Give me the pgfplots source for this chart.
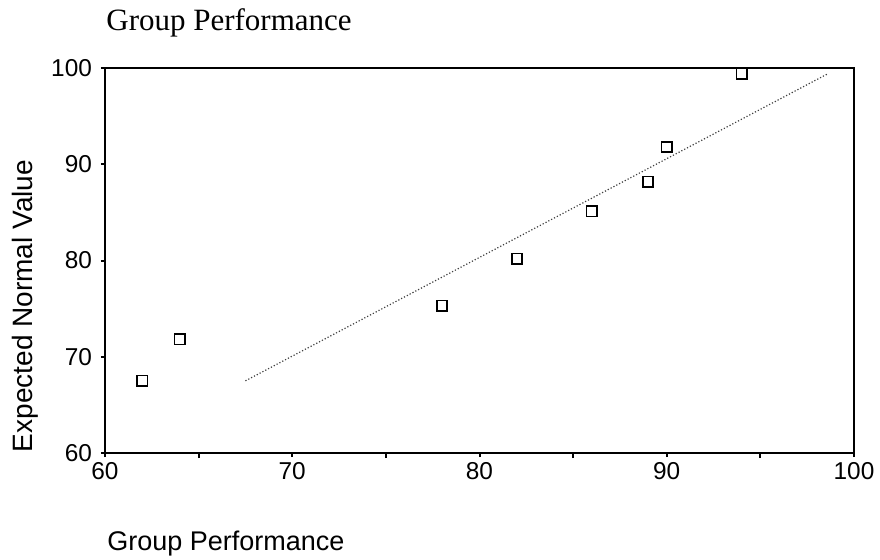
\documentclass[border=0pt]{standalone}
\usepackage{pgfplots}
\pgfplotsset{compat=1.18}
\usepackage{fontspec}
\setmainfont{Liberation Serif}
\newfontfamily\arial{Liberation Sans}
\begin{document}
\begin{tikzpicture}
\path[use as bounding box] (-52.5pt,-53pt) rectangle (387.5pt,226.5pt);
\begin{axis}[
  at={(0pt,0pt)}, anchor=south west,
  scale only axis,
  width=374.5pt, height=192.5pt,
  xmin=60, xmax=100, ymin=60, ymax=100,
  xtick={60,70,80,90,100},
  ytick={60,70,80,90,100},
  minor xtick={65,75,85,95},
  tick align=outside,
  xtick pos=bottom, ytick pos=left,
  major tick length=2pt,
  minor tick length=2.5pt,
  every tick/.style={black, line width=1pt},
  axis line style={line width=1.1pt},
  /pgf/number format/assume math mode=true,
  ticklabel style={font=\arial\fontsize{12.2}{14}\selectfont},
  yticklabel style={xshift=-1pt},
  xticklabel style={yshift=1pt},
  clip=false,
]
\addplot[only marks, mark=square, mark size=2.6pt, mark options={line width=0.8pt, black}]
  coordinates {(62,67.5) (64,71.8) (78,75.3) (82,80.2) (86,85.1) (89,88.2) (90,91.8) (94,99.4)};
\addplot[black!75, line width=0.6pt, densely dotted]
  coordinates {(67.5,67.5) (98.6,99.4)};
\end{axis}
\node[anchor=base west, inner sep=0pt, font=\fontsize{15.5}{18}\selectfont] at (0.5pt,211.5pt) {Group Performance};
\node[anchor=base west, inner sep=0pt, font=\arial\fontsize{13.5}{16}\selectfont] at (1pt,-48.5pt) {Group Performance};
\node[rotate=90, anchor=base, inner sep=0pt, font=\arial\fontsize{14}{17}\selectfont] at (-36pt,73.5pt) {Expected Normal Value};
\end{tikzpicture}
\end{document}
